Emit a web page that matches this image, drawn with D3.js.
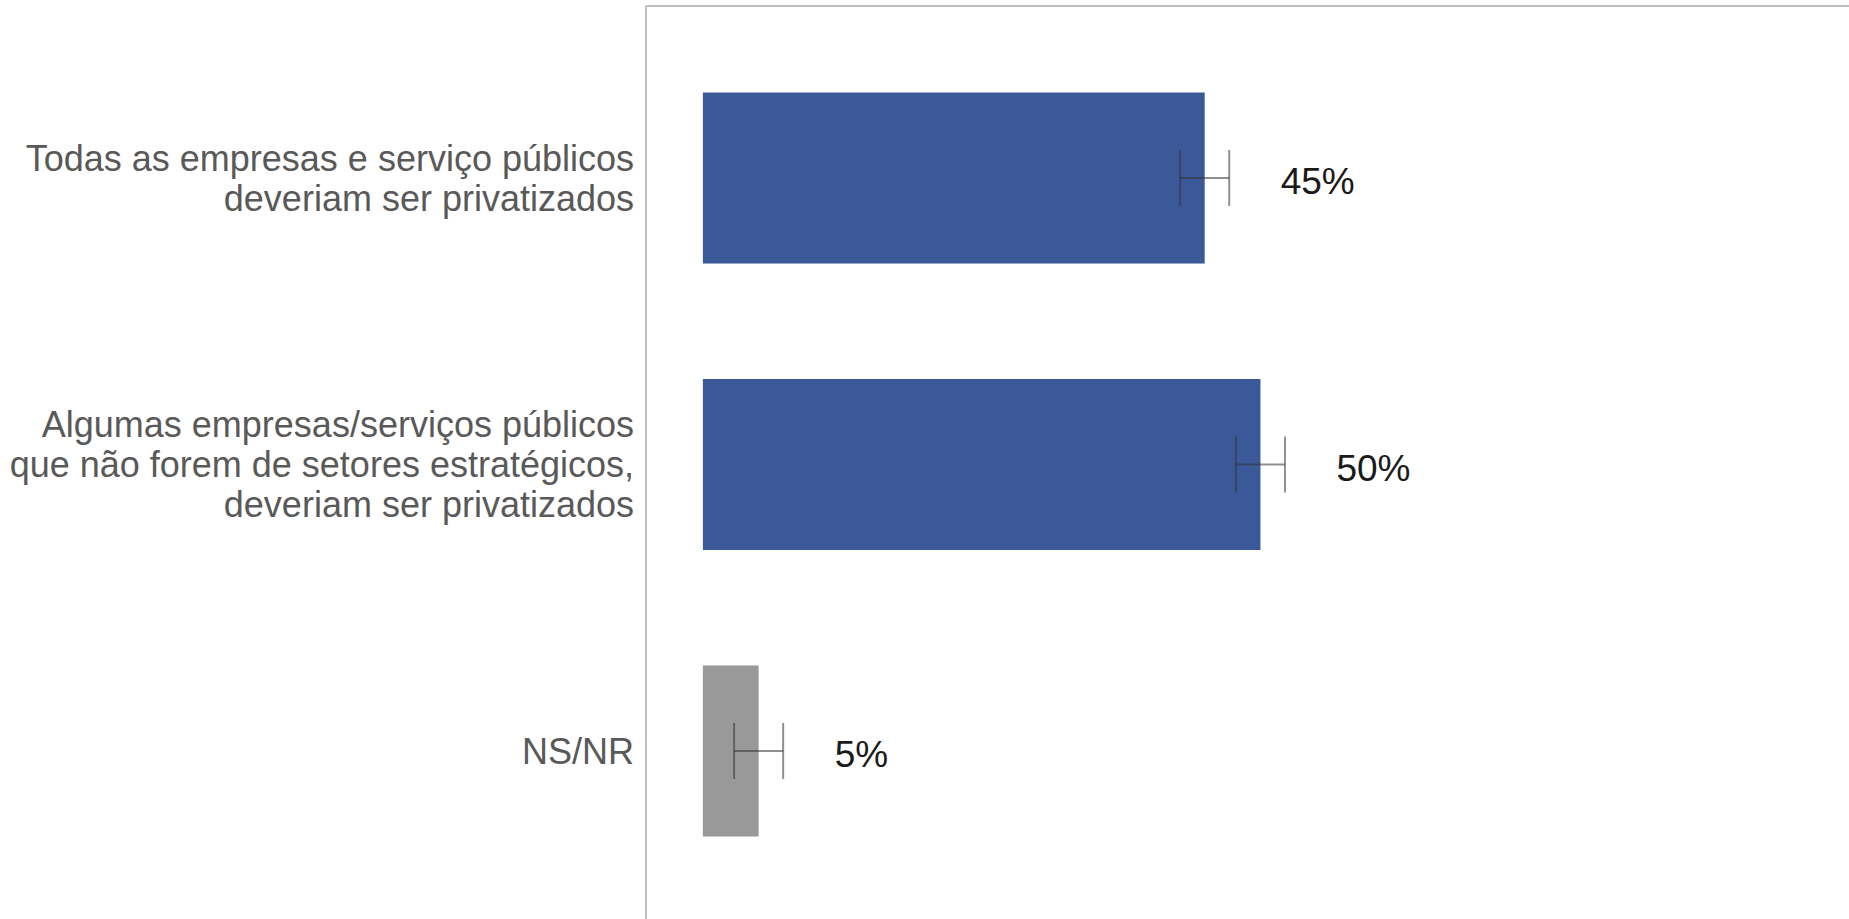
<!DOCTYPE html>
<html>
<head>
<meta charset="utf-8">
<script src="https://cdn.jsdelivr.net/npm/d3@7"></script>
<style>
  html, body { margin: 0; padding: 0; background: #fff; }
  svg { display: block; }
</style>
</head>
<body>
<svg id="chart" width="1849" height="919"></svg>
<script>
// ---- data ----
const categories = ["todas", "algumas", "nsnr"];
const categoryLabels = [
  ["Todas as empresas e serviço públicos", "deveriam ser privatizados"],
  ["Algumas empresas/serviços públicos", "que não forem de setores estratégicos,", "deveriam ser privatizados"],
  ["NS/NR"]
];
const values = [45, 50, 5];
const errorMargins = [2.2, 2.2, 2.2];
const valueLabels = ["45%", "50%", "5%"];
const barColors = ["#3B5998", "#3B5998", "#999999"];

// ---- layout ----
const W = 1849, H = 919;
const svg = d3.select("#chart");

const x = d3.scaleLinear().domain([-5.1, 100]).range([646, 1818]);
const y = d3.scaleBand().domain(categories).range([8, 921]).paddingInner(0.403).paddingOuter(0.295);

// frame: left axis and top border
svg.append("line")
  .attr("x1", x(-5.1)).attr("x2", x(-5.1))
  .attr("y1", 6).attr("y2", H)
  .attr("stroke", "#bdbdbd").attr("stroke-width", 2);
svg.append("line")
  .attr("x1", x(-5.1)).attr("x2", W)
  .attr("y1", 6).attr("y2", 6)
  .attr("stroke", "#bdbdbd").attr("stroke-width", 2);

// bars
svg.selectAll("rect.bar")
  .data(categories)
  .join("rect")
  .attr("class", "bar")
  .attr("x", x(0))
  .attr("y", d => y(d))
  .attr("width", (d, i) => x(values[i]) - x(0))
  .attr("height", y.bandwidth())
  .attr("fill", (d, i) => barColors[i]);

// error bars
const capHalf = 28;
const eg = svg.append("g").attr("stroke", "#333").attr("stroke-opacity", 0.55).attr("stroke-width", 2);
categories.forEach((c, i) => {
  const cy = y(c) + y.bandwidth() / 2;
  const lo = x(values[i] - errorMargins[i]);
  const hi = x(values[i] + errorMargins[i]);
  eg.append("line").attr("x1", lo).attr("x2", hi).attr("y1", cy).attr("y2", cy);
  eg.append("line").attr("x1", lo).attr("x2", lo).attr("y1", cy - capHalf).attr("y2", cy + capHalf);
  eg.append("line").attr("x1", hi).attr("x2", hi).attr("y1", cy - capHalf).attr("y2", cy + capHalf);
});

// value labels
svg.selectAll("text.val")
  .data(categories)
  .join("text")
  .attr("class", "val")
  .attr("x", (d, i) => x(values[i]) + 76)
  .attr("y", d => y(d) + y.bandwidth() / 2 + 3)
  .attr("dy", "0.36em")
  .attr("font-family", "Liberation Sans, Arial, sans-serif")
  .attr("font-size", 37)
  .attr("fill", "#1a1a1a")
  .text((d, i) => valueLabels[i]);

// category labels
const lineH = 40;
categories.forEach((c, i) => {
  const lines = categoryLabels[i];
  const cy = y(c) + y.bandwidth() / 2;
  const t = svg.append("text")
    .attr("text-anchor", "end")
    .attr("font-family", "Liberation Sans, Arial, sans-serif")
    .attr("font-size", 36)
    .attr("fill", "#595959");
  lines.forEach((ln, k) => {
    t.append("tspan")
      .attr("x", 634)
      .attr("y", cy + (k - (lines.length - 1) / 2) * lineH)
      .attr("dy", "0.36em")
      .text(ln);
  });
});
</script>
</body>
</html>
